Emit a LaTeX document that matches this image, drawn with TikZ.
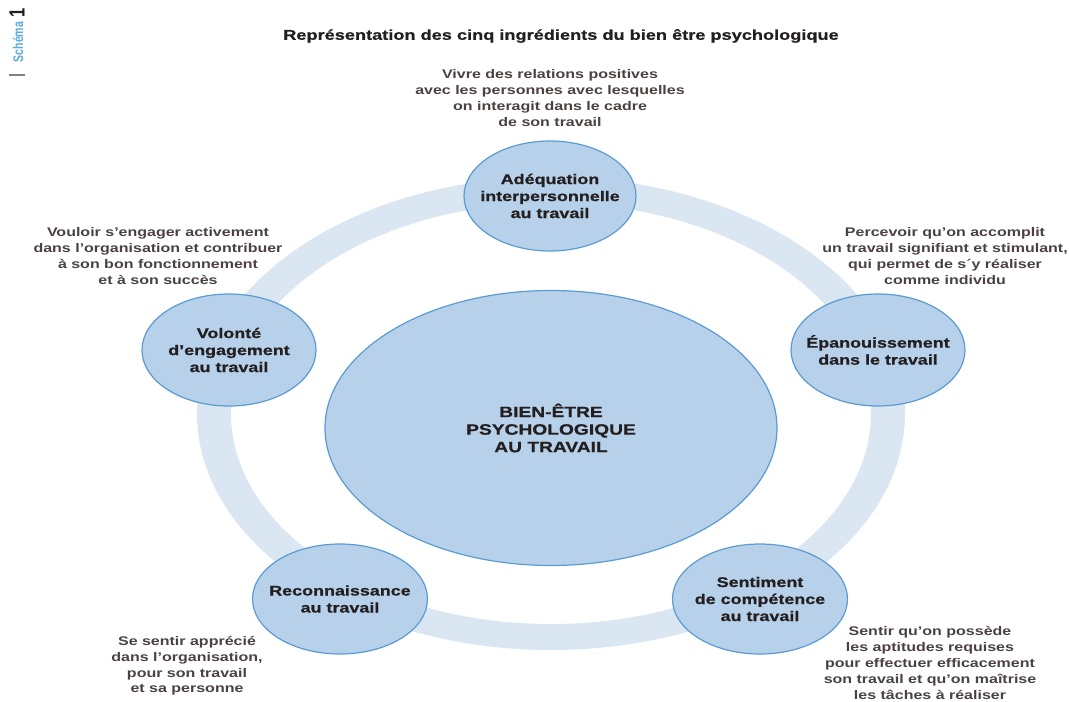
\documentclass[tikz,border=0pt]{standalone}
\usepackage{fontspec}
\setmainfont{Liberation Sans}[FakeStretch=1.28]
\newfontfamily\heavyfont{Liberation Sans}[FakeStretch=1.28, BoldFeatures={FakeBold=0.8}]
\newfontfamily\condfont{Liberation Sans}[FakeStretch=0.75]
\usetikzlibrary{shapes.geometric}
\definecolor{ringcol}{HTML}{DAE6F2}
\definecolor{fillcol}{HTML}{B8D1EA}
\definecolor{edgecol}{HTML}{5A9BD4}
\definecolor{desccol}{HTML}{4B4141}
\definecolor{labcol}{HTML}{231F20}
\definecolor{schemacol}{HTML}{5AA9E0}
\tikzset{
  bubble/.style={ellipse, fill=fillcol, draw=edgecol, line width=1.2pt, inner sep=0pt},
  lab/.style={text=labcol, align=center, font={\heavyfont\fontsize{14}{17}\selectfont\bfseries}},
  desc/.style={text=desccol, align=center, font={\fontsize{12.5}{15.8}\selectfont\bfseries}},
}
\begin{document}
\begin{tikzpicture}[x=1pt,y=-1pt]
\useasboundingbox (0,0) rectangle (1070,701);
% ring (stretched horizontally)
\fill[ringcol, even odd rule] (551,413.5) ellipse [x radius=354, y radius=236.5]
                              (551,413.5) ellipse [x radius=320, y radius=210.5];
% centre
\node[bubble, minimum width=452pt, minimum height=275pt] (centre) at (551,428) {};
\node[text=labcol, align=center, font={\heavyfont\fontsize{15}{17.5}\selectfont\bfseries}] (centrelab) at (centre.center) {BIEN-ÊTRE\\PSYCHOLOGIQUE\\AU TRAVAIL};
% five bubbles
\node[bubble, minimum width=172pt, minimum height=110pt] (top) at (550,196) {};
\node[lab] (toplab) at (top.center) {Adéquation\\interpersonnelle\\au travail};
\node[bubble, minimum width=174pt, minimum height=112pt] (left) at (229,350) {};
\node[lab] (leftlab) at (left.center) {Volonté\\d’engagement\\au travail};
\node[bubble, minimum width=174pt, minimum height=112pt] (right) at (878,350) {};
\node[lab] (rightlab) at (right.center) {Épanouissement\\dans le travail};
\node[bubble, minimum width=175pt, minimum height=110pt] (bl) at (340,599) {};
\node[lab] (bllab) at (bl.center) {Reconnaissance\\au travail};
\node[bubble, minimum width=175pt, minimum height=110pt] (br) at (760,599) {};
\node[lab] (brlab) at (br.center) {Sentiment\\de compétence\\au travail};
% descriptions
\node[desc] (topdesc) at (550,98) {Vivre des relations positives\\avec les personnes avec lesquelles\\on interagit dans le cadre\\de son travail};
\node[desc] (leftdesc) at (158,256) {Vouloir s’engager activement\\dans l’organisation et contribuer\\à son bon fonctionnement\\et à son succès};
\node[desc] (rightdesc) at (945,256) {Percevoir qu’on accomplit\\un travail signifiant et stimulant,\\qui permet de s´y réaliser\\comme individu};
\node[desc] (bldesc) at (187,666) {Se sentir apprécié\\dans l’organisation,\\pour son travail\\et sa personne};
\node[desc] (brdesc) at (930,663) {Sentir qu’on possède\\les aptitudes requises\\pour effectuer efficacement\\son travail et qu’on maîtrise\\les tâches à réaliser};
% title
\node[text=labcol, font={\heavyfont\fontsize{14.2}{16}\selectfont\bfseries}] (title) at (561,36) {Représentation des cinq ingrédients du bien être psychologique};
% schema tag
\node[rotate=90, text=schemacol, font={\condfont\fontsize{14}{14}\selectfont\bfseries}, inner sep=0pt] (schema) at (18,42) {Schéma};
\node[rotate=90, text=labcol, font={\condfont\fontsize{22}{22}\selectfont\bfseries}, inner sep=0pt] (num) at (17,12.5) {1};
\draw[gray, line width=1.8pt] (9,75) -- (25,75);
\end{tikzpicture}
\end{document}
